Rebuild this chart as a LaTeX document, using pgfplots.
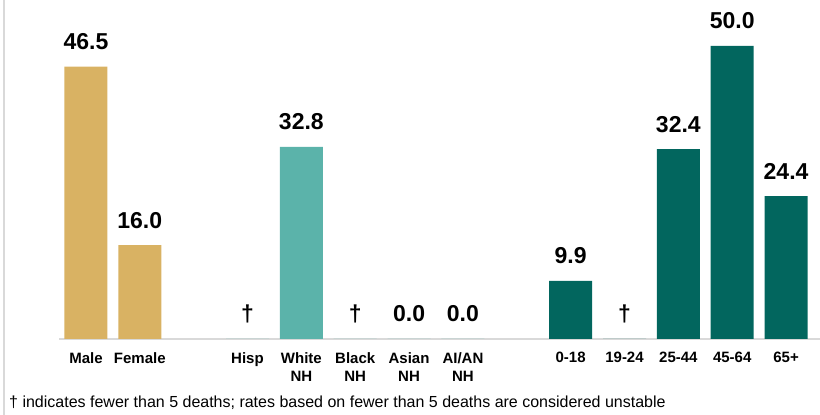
\documentclass[border=0pt]{standalone}
\usepackage{fontspec}
\setmainfont{Liberation Sans}
\usepackage{pgfplots}
\pgfplotsset{compat=1.18}
\definecolor{gold}{HTML}{D9B263}
\definecolor{teal}{HTML}{5BB3AA}
\definecolor{dkgreen}{HTML}{02665E}
\definecolor{rule}{HTML}{D9D9D9}

\begin{document}
\begin{tikzpicture}[x=1pt,y=1pt]
\path[use as bounding box] (0,0) rectangle (820,415);
\draw[rule, line width=2pt] (4,0) -- (4,415);
\begin{axis}[
    at={(59pt,76pt)}, anchor=south west,
    scale only axis,
    width=761pt, height=339pt,
    xmin=-0.5, xmax=13.63,
    ymin=0, ymax=57.85,
    ybar, bar width=43pt, bar shift=0pt,
    axis x line=bottom, axis y line=none,
    x axis line style={-, rule, line width=2pt},
    major tick length=0pt,
    ytick=\empty,
    xtick={0,1,3,4,5,6,7,9,10,11,12,13},
    xticklabels={Male,Female,Hisp,White\\NH,Black\\NH,Asian\\NH,AI/AN\\NH,0-18,19-24,25-44,45-64,65+},
    xticklabel style={font=\bfseries\fontsize{15}{18.4}\selectfont, align=center, anchor=north, inner sep=0pt, yshift=-13pt},
    point meta=explicit symbolic,
    nodes near coords,
    nodes near coords style={anchor=base, inner sep=0pt, yshift=17pt, font=\bfseries\fontsize{23}{23}\selectfont, text=black},
    clip=false,
]
\addplot[fill=gold, draw=none] table[x=x, y=y, meta=lab] {
x y lab
0 46.5 46.5
1 16.0 16.0
};
\addplot[fill=teal, draw=none] table[x=x, y=y, meta=lab] {
x y lab
3 0 †
4 32.8 32.8
5 0 †
6 0 0.0
7 0 0.0
};
\addplot[fill=dkgreen, draw=none] table[x=x, y=y, meta=lab] {
x y lab
9 9.9 9.9
10 0 †
11 32.4 32.4
12 50.0 50.0
13 24.4 24.4
};
\end{axis}
\node[anchor=base west, inner sep=0pt, font=\fontsize{16}{18}\selectfont] at (9,7) {† indicates fewer than 5 deaths; rates based on fewer than 5 deaths are considered unstable};
\end{tikzpicture}
\end{document}
